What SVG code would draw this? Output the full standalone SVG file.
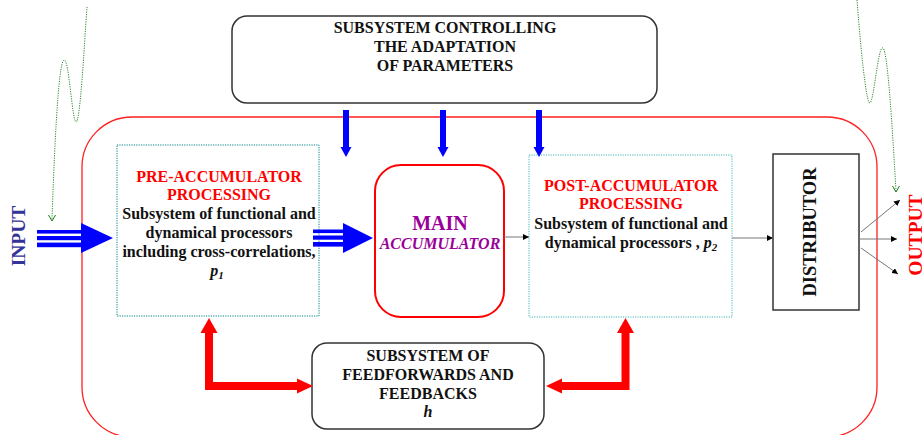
<svg xmlns="http://www.w3.org/2000/svg" width="922" height="435" viewBox="0 0 922 435">
  <defs>
    <marker id="tip" viewBox="0 0 10 10" refX="10" refY="5" markerWidth="6" markerHeight="6" markerUnits="userSpaceOnUse" orient="auto">
      <path d="M0,0 L10,5 L0,10 z" fill="#000"/>
    </marker>
    <style>
      text { font-family: "Liberation Serif", "Times New Roman", serif; font-weight: bold; text-anchor: middle; }
      .t16 { font-size: 16px; fill: #111; }
      .red { fill: #ff0000; }
      .box { fill: #fff; stroke: #333; stroke-width: 1.5; }
      .thin { stroke: #777; stroke-width: 1; fill: none; }
      .blue { fill: #0000ff; }
      .redfill { fill: #ff0000; }
      .wave { fill: none; stroke: #2e8b2e; stroke-width: 1; stroke-dasharray: 1.2 1.2; }
      .vee { fill: none; stroke: #1a7a1a; stroke-width: 1; }
    </style>
  </defs>

  <!-- outer system frame -->
  <rect id="frame" x="82" y="117" width="795" height="320" rx="50" ry="50" fill="none" stroke="#ff2020" stroke-width="1.3"/>

  <!-- adaptation control subsystem -->
  <g id="control">
    <rect class="box" x="232" y="16" width="425" height="87" rx="15" ry="15"/>
    <text class="t16" x="445" y="33">SUBSYSTEM CONTROLLING</text>
    <text class="t16" x="445" y="52">THE ADAPTATION</text>
    <text class="t16" x="445" y="71">OF PARAMETERS</text>
  </g>

  <!-- pre-accumulator processing -->
  <g id="pre">
    <rect x="117" y="145" width="202" height="171" fill="#fff" stroke="#008080" stroke-width="1" stroke-dasharray="1.2 1.2"/>
    <text class="t16 red" x="219" y="182">PRE-ACCUMULATOR</text>
    <text class="t16 red" x="219" y="200">PROCESSING</text>
    <text class="t16" x="219" y="219">Subsystem of functional and</text>
    <text class="t16" x="219" y="238">dynamical processors</text>
    <text class="t16" x="219" y="257">including cross-correlations,</text>
    <text class="t16" x="217" y="276" font-style="italic">p<tspan font-size="11" dy="3">1</tspan></text>
  </g>

  <!-- main accumulator -->
  <g id="main">
    <rect x="375" y="165" width="129" height="152" rx="26" ry="26" fill="#fff" stroke="#ff0000" stroke-width="2"/>
    <text x="440" y="230" font-size="20" fill="#990099">MAIN</text>
    <text x="440" y="249" font-size="16" font-style="italic" fill="#990099">ACCUMULATOR</text>
  </g>

  <!-- post-accumulator processing -->
  <g id="post">
    <rect x="529" y="155" width="203" height="162" fill="#fff" stroke="#44b8b8" stroke-width="1" stroke-dasharray="1.2 1.2"/>
    <text class="t16 red" x="631" y="191">POST-ACCUMULATOR</text>
    <text class="t16 red" x="631" y="209">PROCESSING</text>
    <text class="t16" x="631" y="229">Subsystem of functional and</text>
    <text class="t16" x="631" y="248">dynamical processors , <tspan font-style="italic">p</tspan><tspan font-style="italic" font-size="11" dy="3">2</tspan></text>
  </g>

  <!-- distributor -->
  <g id="distributor">
    <rect x="773" y="154" width="86" height="156" fill="#fff" stroke="#333" stroke-width="1.5"/>
    <text x="0" y="0" font-size="18.5" fill="#111" transform="translate(816,232) rotate(-90)">DISTRIBUTOR</text>
  </g>

  <!-- feedforward / feedback subsystem -->
  <g id="feedback">
    <rect class="box" x="312" y="343" width="232" height="86" rx="15" ry="15"/>
    <text class="t16" x="428" y="361">SUBSYSTEM OF</text>
    <text class="t16" x="428" y="380">FEEDFORWARDS AND</text>
    <text class="t16" x="428" y="399">FEEDBACKS</text>
    <text class="t16" x="428" y="417" font-style="italic">h</text>
  </g>

  <!-- side labels -->
  <g id="input-label">
    <text x="0" y="0" font-size="19.5" fill="#333399" transform="translate(25,236) rotate(-90)">INPUT</text>
  </g>
  <g id="output-label">
    <text x="0" y="0" font-size="19.5" fill="#ff0000" transform="translate(922,235) rotate(-90)">OUTPUT</text>
  </g>

  <!-- connectors -->
  <g id="connectors">
    <!-- input bundle -->
    <rect class="blue" x="37" y="230" width="46" height="3.6"/>
    <rect class="blue" x="37" y="236" width="46" height="4.2"/>
    <rect class="blue" x="37" y="242.6" width="46" height="4.6"/>
    <polygon class="blue" points="81,223 113,238 81,253"/>

    <!-- pre to main bundle -->
    <rect class="blue" x="313" y="229.5" width="32" height="3.6"/>
    <rect class="blue" x="313" y="235.5" width="32" height="4.2"/>
    <rect class="blue" x="313" y="242" width="32" height="4.6"/>
    <polygon class="blue" points="343,223 373,238 343,253"/>

    <!-- adaptation control arrows -->
    <rect class="blue" x="343" y="110" width="6" height="38"/>
    <polygon class="blue" points="340.5,147 351.5,147 346,157"/>
    <rect class="blue" x="440" y="110" width="6" height="38"/>
    <polygon class="blue" points="437.5,147 448.5,147 443,157"/>
    <rect class="blue" x="536" y="110" width="6" height="38"/>
    <polygon class="blue" points="533.5,147 544.5,147 539,157"/>

    <!-- thin signal lines -->
    <path class="thin" d="M504,237 L529,237" marker-end="url(#tip)"/>
    <path class="thin" d="M732,238 L773,238" marker-end="url(#tip)"/>
    <path class="thin" d="M861,232 L900,200" marker-end="url(#tip)"/>
    <path class="thin" d="M859,239 L897,239" marker-end="url(#tip)"/>
    <path class="thin" d="M861,248 L898,274" marker-end="url(#tip)"/>

    <!-- feedback loops -->
    <path class="redfill" d="M205,332 L213,332 L213,382 L298,382 L298,390 L205,390 z"/>
    <polygon class="redfill" points="200.5,333 209,318 217.5,333"/>
    <polygon class="redfill" points="297,378.5 313,386 297,393.5"/>
    <path class="redfill" d="M621.5,332 L629.5,332 L629.5,390 L561,390 L561,382 L621.5,382 z"/>
    <polygon class="redfill" points="617,333 625.5,318 634,333"/>
    <polygon class="redfill" points="562,378.5 546,386 562,393.5"/>

    <!-- incoming disturbance traces -->
    <path class="wave" d="M87,7 C84,50 80,124 76,122 C72,120 69,58 64,60 C58,62 54,160 52,220"/>
    <path class="vee" d="M48.5,215 L52,221 L55.5,215"/>
    <path class="wave" d="M857,0 C860,40 866,105 870,103 C874,101 878,45 883,48 C888,51 893,140 896,191"/>
    <path class="vee" d="M892.5,186 L896,192 L899.5,186"/>
  </g>
</svg>
